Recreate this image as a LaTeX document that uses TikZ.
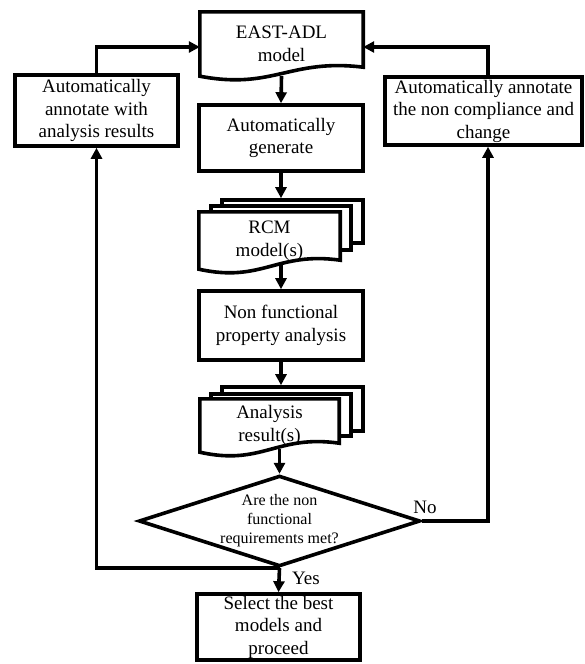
\documentclass[tikz,border=0pt]{standalone}
\usepackage{fontspec}
\setmainfont{Liberation Serif}
\usetikzlibrary{arrows.meta,calc,shapes.geometric}

\pgfdeclarelayer{background}
\pgfsetlayers{background,main}

% Document outline (flat top, wavy bottom) around a rectangular node
\newcommand{\docoutline}[1]{%
  \draw[outline, fill=white] (#1.north west) -- (#1.north east)
    -- ([yshift=9pt]#1.south east)
    .. controls ($(#1.south west)!0.55!(#1.south east)+(0pt,18pt)$)
       and ($(#1.south west)!0.45!(#1.south east)+(0pt,-14pt)$)
    .. (#1.south west) -- cycle;}

\begin{document}
\begin{tikzpicture}[x=1pt,y=-1pt,
  outline/.style={line width=3.6pt, line join=miter},
  stepbox/.style={draw, outline, fill=white, rectangle, align=center,
    inner sep=0pt, font=\fontsize{19}{22.5}\selectfont},
  doctext/.style={rectangle, align=center, inner sep=0pt,
    font=\fontsize{19}{22.5}\selectfont},
  sheet/.style={draw, outline, fill=white, rectangle, inner sep=0pt},
  decision/.style={draw, outline, fill=white, diamond, aspect=3.1,
    inner sep=0pt, align=center, font=\fontsize{16}{19}\selectfont},
  flow/.style={line width=3.6pt, -{Triangle[length=11pt,width=11pt]}},
  lbl/.style={font=\fontsize{19}{22.5}\selectfont, inner sep=0pt}
]
\useasboundingbox (0,0) rectangle (584,664);

% main column
\node[doctext, minimum width=163pt, minimum height=64pt] (east) at (281.5,44) {EAST-ADL\\model};
\node[stepbox, minimum width=164pt, minimum height=66pt] (gen) at (281,138) {Automatically\\generate};
\node[doctext, minimum width=141pt, minimum height=57pt] (rcm) at (269.5,240.5) {RCM\\model(s)};
\node[stepbox, minimum width=164pt, minimum height=69pt] (nf) at (281,325.5) {Non functional\\property analysis};
\node[doctext, minimum width=139pt, minimum height=53pt] (res) at (269.5,425.5) {Analysis\\result(s)};
\node[decision, minimum width=281pt, minimum height=88pt] (dec) at (279.5,521) {Are the non\\functional\\requirements met?};
\node[stepbox, minimum width=163pt, minimum height=66pt] (sel) at (278.5,627) {Select the best\\models and\\proceed};

% side boxes
\node[stepbox, minimum width=163pt, minimum height=71pt] (annres) at (96.5,110.5) {Automatically\\annotate with\\analysis results};
\node[stepbox, minimum width=197pt, minimum height=68pt] (annnc) at (483.5,111) {Automatically annotate\\the non compliance and\\change};

% document shapes and stacked sheets
\begin{pgfonlayer}{background}
  \docoutline{east}
  \node[sheet, minimum width=141pt, minimum height=43pt] (rcmback) at (292.5,221.5) {};
  \node[sheet, minimum width=140pt, minimum height=44pt] (rcmmid) at (281,228) {};
  \docoutline{rcm}
  \node[sheet, minimum width=141pt, minimum height=44pt] (resback) at (292.5,409) {};
  \node[sheet, minimum width=140pt, minimum height=42pt] (resmid) at (281,415) {};
  \docoutline{res}
\end{pgfonlayer}

% connectors
\draw[flow] (east.south) -- (gen.north);
\draw[flow] (gen.south) -- (gen.south |- rcmback.north);
\draw[flow] ([yshift=4pt]nf.north |- rcm.south) -- (nf.north);
\draw[flow] (nf.south) -- (nf.south |- resback.north);
\draw[flow] ([yshift=3pt]dec.north |- res.south) -- (dec.north);
\draw[flow] (dec.south) -- (sel.north);
\draw[flow] (dec.south) -| (annres.south);
\coordinate (ncin) at ([xshift=4.5pt]annnc.south);
\coordinate (ncout) at ([xshift=4.5pt]annnc.north);
\draw[flow] (dec.east) -| (ncin);
\draw[flow] (annres.north) |- ([yshift=-3pt]east.west);
\draw[flow] (ncout) |- ([yshift=-3pt]east.east);

% branch labels
\node[lbl] (no) at (425,507) {No};
\node[lbl] (yes) at (306,578) {Yes};
\end{tikzpicture}
\end{document}
